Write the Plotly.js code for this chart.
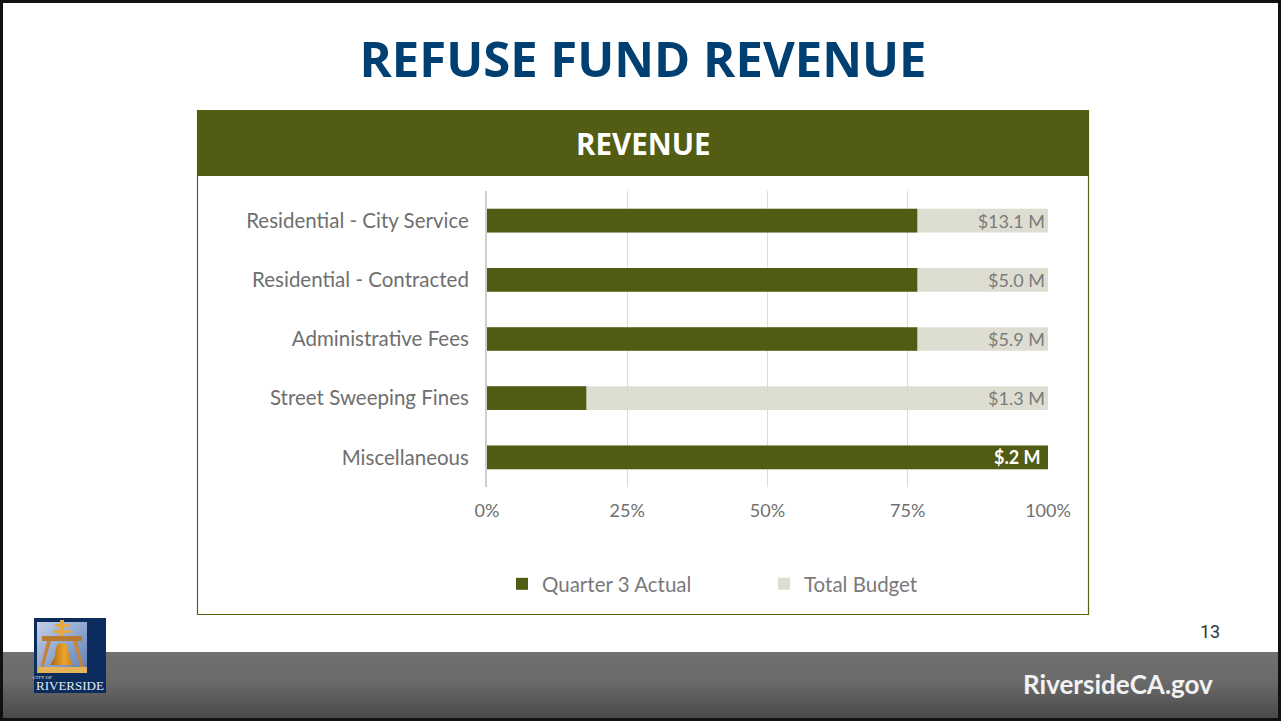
<!DOCTYPE html>
<html><head><meta charset="utf-8">
<script src="https://cdn.plot.ly/plotly-3.0.1.min.js"></script>
<style>html,body{margin:0;padding:0;background:#fff}#c{width:1281px;height:721px}</style></head>
<body><div id="c"></div>
<script>
const categories=['Residential - City Service','Residential - Contracted','Administrative Fees','Street Sweeping Fines','Miscellaneous'];
const actualPct=[76.7,76.7,76.7,17.7,100];
const budgetPct=[100,100,100,100,100];
const budgetLabels=['$13.1 M','$5.0 M','$5.9 M','$1.3 M',''];
const actualLabels=['','','','','$.2 M\u00a0'];
const tickVals=[0,25,50,75,100];
const tickText=['0%','25%','50%','75%','100%'];
const L=487,R=1048,T=191,B=487;
const px=x=>(x-L)/(R-L), py=y=>(B-y)/(B-T);
const rect=(x0,y0,x1,y1,fill,line,w)=>({type:'rect',xref:'paper',yref:'paper',x0:px(x0),x1:px(x1),y0:py(y0),y1:py(y1),fillcolor:fill,line:{color:line||'rgba(0,0,0,0)',width:w||0},layer:'below'});
const svg=s=>'data:image/svg+xml;base64,'+btoa(s);
const footerSvg=svg('<svg xmlns="http://www.w3.org/2000/svg" width="1281" height="69" preserveAspectRatio="none"><defs><linearGradient id="g" x1="0" y1="0" x2="0" y2="1"><stop offset="0" stop-color="#707070"/><stop offset="0.45" stop-color="#6a6a6a"/><stop offset="1" stop-color="#4a4a4a"/></linearGradient></defs><rect width="1281" height="69" fill="url(#g)"/></svg>');
const logoSvg=svg('<svg xmlns="http://www.w3.org/2000/svg" width="72" height="75" viewBox="0 0 72 75"><defs><linearGradient id="s" x1="0" y1="0" x2="1" y2="1"><stop offset="0" stop-color="#c3cfe6"/><stop offset="1" stop-color="#5f7fb4"/></linearGradient><linearGradient id="b" x1="0" y1="0" x2="1" y2="0"><stop offset="0" stop-color="#a95f14"/><stop offset="0.6" stop-color="#eda52a"/><stop offset="1" stop-color="#c57a18"/></linearGradient></defs><rect width="72" height="75" fill="#0b2c5c"/><rect x="3" y="4" width="50" height="51" fill="url(#s)"/><path d="M26 2h4v4h5v3h-5v3h7v3h-7v4h-4v-4h-7v-3h7V9h-5V6h5z" fill="#e8a840"/><path d="M8 18H48V23H8z" fill="#b97a34"/><path d="M13 23l-7 28h3l8-28zM43 23l7 28h-3l-8-28z" fill="#c48540"/><path d="M28 25c-6 0-6 6-7 12-1 5-3 7-5 10h24c-2-3-4-5-5-10-1-6-1-12-7-12z" fill="url(#b)"/><path d="M4 49H53V55H4z" fill="#e6b458"/></svg>');
const data=[
 {type:'bar',orientation:'h',name:'Total Budget',y:categories,x:budgetPct,text:budgetLabels,textposition:'inside',insidetextanchor:'end',constraintext:'none',
  textfont:{family:'Lato, sans-serif',size:18,color:'#7b7b7b'},marker:{color:'rgba(217,218,204,0.9)'},hoverinfo:'skip'},
 {type:'bar',orientation:'h',name:'Quarter 3 Actual',y:categories,x:actualPct,text:actualLabels,textposition:'inside',insidetextanchor:'end',constraintext:'none',
  textfont:{family:'Lato, sans-serif',size:18,color:'#ffffff',weight:700},marker:{color:'#525b13'},hoverinfo:'skip'}
];
const layout={
 width:1281,height:721,autosize:false,paper_bgcolor:'#fff',plot_bgcolor:'rgba(0,0,0,0)',
 margin:{l:L,r:1281-R,t:T,b:721-B,pad:0},
 barmode:'overlay',bargap:0.6,showlegend:true,
 font:{family:'Lato, sans-serif',color:'#6f6f6f'},
 title:{text:'<b>REFUSE FUND REVENUE</b>',font:{family:'Open Sans, sans-serif',size:49,color:'#003f72'},x:643/1281,xanchor:'center',xref:'container',y:1-60/721,yanchor:'middle'},
 xaxis:{range:[0,100],tickvals:tickVals,ticktext:tickText,tickfont:{family:'Lato, sans-serif',size:18,color:'#6f6f6f'},gridcolor:'#dcdcdc',gridwidth:1,zeroline:false,showline:false,ticks:'outside',ticklen:7,tickcolor:'rgba(0,0,0,0)',automargin:false,fixedrange:true},
 yaxis:{autorange:'reversed',categoryorder:'array',categoryarray:categories,type:'category',tickfont:{family:'Lato, sans-serif',size:20.5,color:'#6f6f6f'},showline:true,linecolor:'#cfcfcf',linewidth:2,showgrid:false,ticks:'outside',ticklen:12,tickcolor:'rgba(0,0,0,0)',automargin:false,fixedrange:true},
 legend:{orientation:'h',traceorder:'reversed',x:px(502),xanchor:'left',y:py(584),yanchor:'middle',entrywidth:217,entrywidthmode:'pixels',font:{family:'Lato, sans-serif',size:20.5,color:'#7a7a7a'},bgcolor:'rgba(0,0,0,0)',itemclick:false,itemdoubleclick:false},
 shapes:[
  rect(197.5,110.5,1088.5,614.5,'#ffffff','#5a6312',1.2),
  rect(197,110,1089,176,'#535c13'),
  rect(1.5,1.5,1279.5,719.5,'rgba(0,0,0,0)','#111111',3)
 ],
 images:[
  {source:footerSvg,xref:'paper',yref:'paper',x:px(3),y:py(652),sizex:(1278-3)/(R-L),sizey:66/(B-T),xanchor:'left',yanchor:'top',sizing:'stretch',layer:'below'},
  {source:logoSvg,xref:'paper',yref:'paper',x:px(34),y:py(618),sizex:72/(R-L),sizey:75/(B-T),xanchor:'left',yanchor:'top',sizing:'stretch',layer:'above'}
 ],
 annotations:[
  {text:'<b>REVENUE</b>',xref:'paper',yref:'paper',x:px(643),y:py(143.5),xanchor:'center',yanchor:'middle',showarrow:false,font:{family:'Open Sans, sans-serif',size:29.5,color:'#fff'}},
  {text:'13',xref:'paper',yref:'paper',x:px(1210),y:py(631),xanchor:'center',yanchor:'middle',showarrow:false,font:{family:'Roboto, sans-serif',size:18,color:'#333'}},
  {text:'<b>RiversideCA.gov</b>',xref:'paper',yref:'paper',x:px(1117.5),y:py(684),xanchor:'center',yanchor:'middle',showarrow:false,font:{family:'Lato, sans-serif',size:26,color:'#f2f2f2'}},
  {text:'CITY OF',xref:'paper',yref:'paper',x:px(43),y:py(677),xanchor:'center',yanchor:'middle',showarrow:false,font:{family:'Liberation Serif, serif',size:5,color:'#e6ebf3'}},
  {text:'RIVERSIDE',xref:'paper',yref:'paper',x:px(70),y:py(685.5),xanchor:'center',yanchor:'middle',showarrow:false,font:{family:'Liberation Serif, serif',size:13,color:'#e6ebf3'}}
 ]
};
Plotly.newPlot('c',data,layout,{displayModeBar:false,staticPlot:true});
</script></body></html>
